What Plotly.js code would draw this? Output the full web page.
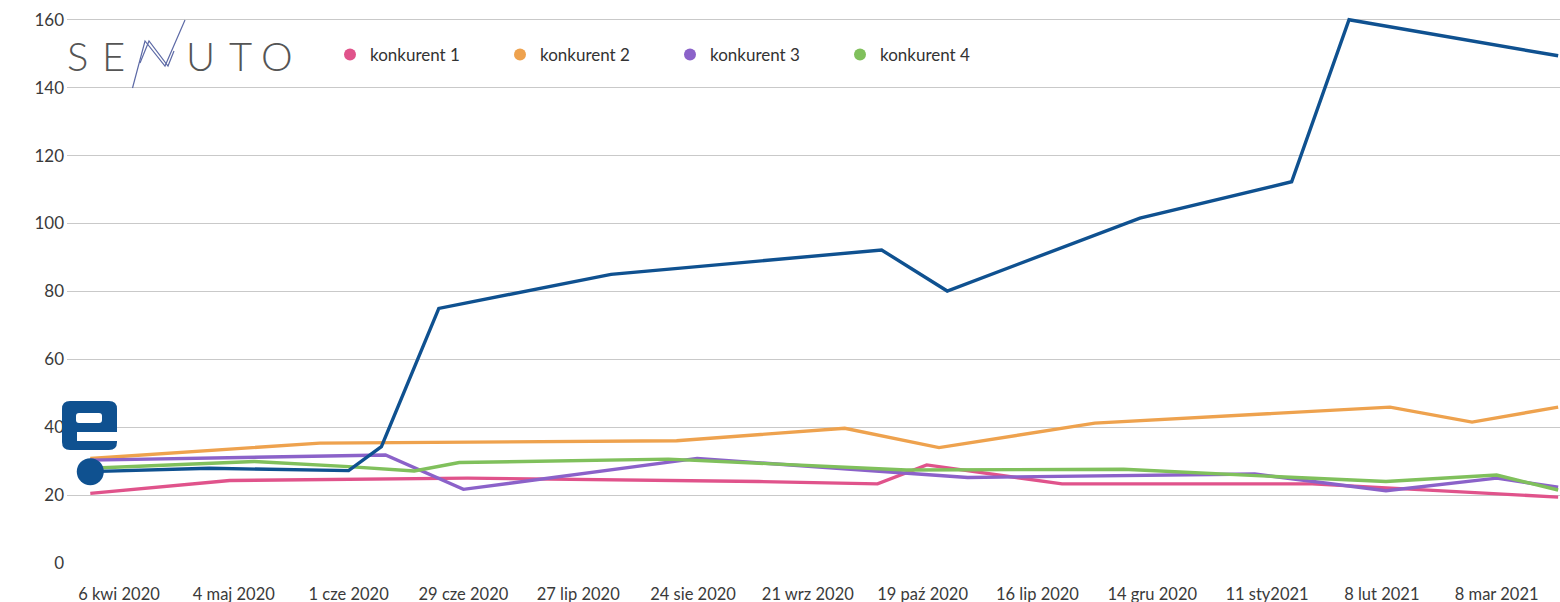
<!DOCTYPE html>
<html><head><meta charset="utf-8">
<script src="https://cdn.plot.ly/plotly-3.0.1.min.js"></script>
<style>html,body{margin:0;padding:0;background:#fff;}</style>
</head><body><div id="chart" style="width:1560px;height:602px;"></div>
<script>
// ---- data ----
const tickDates = ['2020-04-06','2020-05-04','2020-06-01','2020-06-29','2020-07-27','2020-08-24','2020-09-21','2020-10-19','2020-11-16','2020-12-14','2021-01-11','2021-02-08','2021-03-08'];
const tickLabels = ['6 kwi 2020','4 maj 2020','1 cze 2020','29 cze 2020','27 lip 2020','24 sie 2020','21 wrz 2020','19 paź 2020','16 lip 2020','14 gru 2020','11 sty2021','8 lut 2021','8 mar 2021'];

const mainDates  = ['2020-03-30','2020-04-28','2020-06-01','2020-06-09','2020-06-23','2020-08-04','2020-10-09','2020-10-25','2020-12-11','2021-01-17','2021-01-31','2021-03-23'];
const mainValues = [26.9, 27.9, 27.2, 34.3, 75, 85, 92.2, 80.1, 101.6, 112.3, 160, 149.4];

const k1Dates  = ['2020-03-30','2020-05-03','2020-06-30','2020-09-09','2020-10-08','2020-10-20','2020-11-22','2021-01-22','2021-03-23'];
const k1Values = [20.5, 24.3, 25.0, 24.0, 23.3, 28.9, 23.3, 23.3, 19.4];

const k2Dates  = ['2020-03-30','2020-05-25','2020-08-20','2020-09-30','2020-10-23','2020-11-30','2021-02-10','2021-03-02','2021-03-23'];
const k2Values = [30.8, 35.3, 36.0, 39.7, 34.0, 41.2, 45.9, 41.5, 45.9];

const k3Dates  = ['2020-03-30','2020-06-10','2020-06-29','2020-08-25','2020-10-30','2021-01-08','2021-02-09','2021-03-08','2021-03-23'];
const k3Values = [30.3, 31.8, 21.7, 30.8, 25.2, 26.2, 21.3, 25.0, 22.3];

const k4Dates  = ['2020-03-30','2020-05-09','2020-06-01','2020-06-17','2020-06-28','2020-08-18','2020-10-15','2020-12-07','2021-01-14','2021-02-09','2021-03-08','2021-03-23'];
const k4Values = [27.9, 29.9, 28.4, 27.1, 29.6, 30.6, 27.4, 27.6, 25.4, 24.0, 25.9, 21.5];

const seriesNames = ['konkurent 1','konkurent 2','konkurent 3','konkurent 4'];
const seriesColors = ['#e0538b','#eea24e','#8b62c9','#80c05c'];
const mainColor = '#0f5190';

// ---- layout helpers (pixel -> paper) for decorations ----
const PL = 67, PR = 1560, PT = 13, PB = 563;
const W = 1560, H = 602;
const px = x => (x - PL) / (PR - PL);
const py = y => (PB - y) / (PB - PT);

function roundRect(x0, y0, x1, y1, r) {
  const p = (x, y) => px(x) + ',' + py(y);
  return 'M' + p(x0 + r, y0) + ' L' + p(x1 - r, y0) + ' Q' + p(x1, y0) + ' ' + p(x1, y0 + r) +
    ' L' + p(x1, y1 - r) + ' Q' + p(x1, y1) + ' ' + p(x1 - r, y1) +
    ' L' + p(x0 + r, y1) + ' Q' + p(x0, y1) + ' ' + p(x0, y1 - r) +
    ' L' + p(x0, y0 + r) + ' Q' + p(x0, y0) + ' ' + p(x0 + r, y0) + ' Z';
}
function polyline(pts) {
  return pts.map((q, i) => (i ? 'L' : 'M') + px(q[0]) + ',' + py(q[1])).join(' ');
}

const seriesX = [k1Dates, k2Dates, k3Dates, k4Dates];
const seriesY = [k1Values, k2Values, k3Values, k4Values];

const traces = [];
for (let i = 0; i < 4; i++) {
  traces.push({
    x: seriesX[i], y: seriesY[i], type: 'scatter', mode: 'lines',
    line: {color: seriesColors[i], width: 3.4}, showlegend: false, legendgroup: 'g' + i,
    hoverinfo: 'skip'
  });
}
traces.push({
  x: mainDates, y: mainValues, type: 'scatter', mode: 'lines+markers',
  line: {color: mainColor, width: 3.4},
  marker: {color: mainColor, opacity: 1, size: mainValues.map((v, i) => i === 0 ? 27 : 0), line: {width: 0}},
  cliponaxis: false, showlegend: false, hoverinfo: 'skip'
});
for (let i = 0; i < 4; i++) {
  traces.push({
    x: [null], y: [null], type: 'scatter', mode: 'markers', name: seriesNames[i],
    marker: {color: seriesColors[i], size: 12, opacity: 1}, legendgroup: 'g' + i
  });
}

const shapes = [
  {type: 'path', xref: 'paper', yref: 'paper', path: roundRect(62, 401, 117, 450, 8), fillcolor: mainColor, line: {width: 0}, layer: 'above'},
  {type: 'path', xref: 'paper', yref: 'paper', path: roundRect(76, 413, 102, 423, 3), fillcolor: '#ffffff', line: {width: 0}, layer: 'above'},
  {type: 'rect', xref: 'paper', yref: 'paper', x0: px(77), x1: px(118), y0: py(432), y1: py(441), fillcolor: '#ffffff', line: {width: 0}, layer: 'above'},
  {type: 'path', xref: 'paper', yref: 'paper', path: polyline([[132.5, 88], [145, 41], [165, 66], [185, 20]]), line: {color: '#5d6aa6', width: 1.2}},
  {type: 'path', xref: 'paper', yref: 'paper', path: polyline([[140, 63], [149, 41], [168, 66], [174, 51]]), line: {color: '#5d6aa6', width: 1.2}}
];

const logoFont = {family: 'Lato, sans-serif', size: 40, color: '#555555', weight: 300};
const letters = [['S', 77], ['E', 113], ['U', 200], ['T', 240], ['O', 277]];
const annotations = letters.map(l => ({
  text: l[0], xref: 'paper', yref: 'paper', x: px(l[1]), y: py(56), xanchor: 'center', yanchor: 'middle',
  showarrow: false, font: logoFont
}));

const layout = {
  width: W, height: H,
  margin: {l: PL, r: W - PR, t: PT, b: H - PB, pad: 0},
  paper_bgcolor: '#ffffff', plot_bgcolor: '#ffffff',
  font: {family: 'Lato, sans-serif', color: '#3a3a3a'},
  xaxis: {
    type: 'date', range: ['2020-03-24 07:40', '2021-03-23 10:50'],
    tickmode: 'array', tickvals: tickDates, ticktext: tickLabels,
    showgrid: false, zeroline: false, showline: false, ticks: '',
    tickfont: {size: 16.5, color: '#3a3a3a'}, ticklabelstandoff: 19, fixedrange: true
  },
  yaxis: {
    range: [0, 162], tickmode: 'linear', tick0: 0, dtick: 20,
    showgrid: true, gridcolor: '#c9c9c9', gridwidth: 1, zeroline: false, showline: false, ticks: '',
    tickfont: {size: 17, color: '#3a3a3a'}, ticklabelstandoff: 2, fixedrange: true
  },
  showlegend: true,
  legend: {
    orientation: 'h', x: px(330), y: py(55), xanchor: 'left', yanchor: 'middle',
    font: {size: 17, color: '#333333'}, bgcolor: 'rgba(0,0,0,0)',
    entrywidth: 125, entrywidthmode: 'pixels', itemclick: false, itemdoubleclick: false
  },
  shapes: shapes,
  annotations: annotations
};

Plotly.newPlot('chart', traces, layout, {displayModeBar: false, staticPlot: true});
</script>
</body></html>
